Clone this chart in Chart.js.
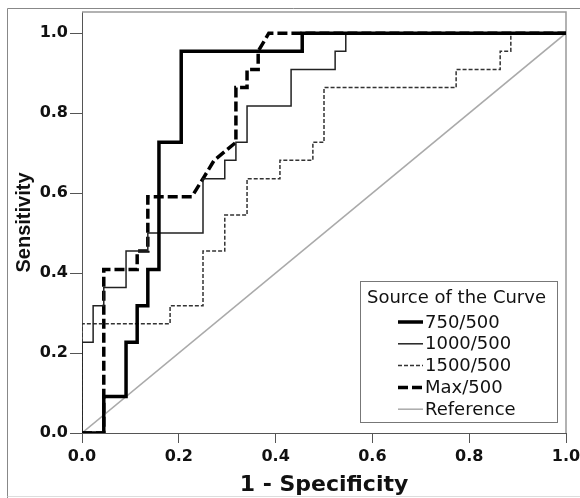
<!DOCTYPE html>
<html>
<head>
<meta charset="utf-8">
<script src="https://cdn.jsdelivr.net/npm/chart.js@4.4.0/dist/chart.umd.min.js"></script>
<style>
  html, body { margin: 0; padding: 0; background: #fff; }
  canvas { display: block; }
</style>
</head>
<body>
<canvas id="rocChart" width="580" height="498"></canvas>
<script>
// ROC curves (1 - specificity, sensitivity)
const seriesNames = ['750/500', '1000/500', '1500/500', 'Max/500', 'Reference'];

const fpr750 = [0, 0.045, 0.045, 0.091, 0.091, 0.114, 0.114, 0.136, 0.136, 0.159, 0.159, 0.205, 0.205, 0.455, 0.455, 1];
const tpr750 = [0, 0, 0.091, 0.091, 0.227, 0.227, 0.318, 0.318, 0.409, 0.409, 0.727, 0.727, 0.955, 0.955, 1, 1];

const fpr1000 = [0, 0, 0.023, 0.023, 0.045, 0.045, 0.091, 0.091, 0.136, 0.136, 0.25, 0.25, 0.295, 0.295, 0.318, 0.318, 0.341, 0.341, 0.432, 0.432, 0.523, 0.523, 0.545, 0.545, 1];
const tpr1000 = [0, 0.227, 0.227, 0.318, 0.318, 0.364, 0.364, 0.455, 0.455, 0.5, 0.5, 0.636, 0.636, 0.682, 0.682, 0.727, 0.727, 0.818, 0.818, 0.909, 0.909, 0.955, 0.955, 1, 1];

const fpr1500 = [0, 0, 0.182, 0.182, 0.25, 0.25, 0.295, 0.295, 0.341, 0.341, 0.409, 0.409, 0.477, 0.477, 0.5, 0.5, 0.773, 0.773, 0.864, 0.864, 0.886, 0.886, 1];
const tpr1500 = [0, 0.273, 0.273, 0.318, 0.318, 0.455, 0.455, 0.545, 0.545, 0.636, 0.636, 0.682, 0.682, 0.727, 0.727, 0.864, 0.864, 0.909, 0.909, 0.955, 0.955, 1, 1];

const fprMax = [0, 0.045, 0.045, 0.114, 0.114, 0.136, 0.136, 0.227, 0.25, 0.273, 0.318, 0.318, 0.341, 0.341, 0.364, 0.364, 0.386, 1];
const tprMax = [0, 0, 0.409, 0.409, 0.455, 0.455, 0.591, 0.591, 0.636, 0.682, 0.727, 0.864, 0.864, 0.909, 0.909, 0.955, 1, 1];

const fprRef = [0, 1];
const tprRef = [0, 1];

const xTicks = [0, 0.2, 0.4, 0.6, 0.8, 1.0];

function pts(xs, ys) {
  return xs.map((x, i) => ({ x: x, y: ys[i] }));
}

const tickFont = { family: '"DejaVu Sans", sans-serif', size: 16, weight: 'bold' };

// frame round the whole figure + top/right border of the plot
const framePlugin = {
  id: 'frame',
  beforeDraw(chart) {
    const ctx = chart.ctx;
    ctx.save();
    ctx.fillStyle = '#fff';
    ctx.fillRect(0, 0, chart.width, chart.height);
    ctx.strokeStyle = '#888';
    ctx.lineWidth = 1;
    ctx.beginPath();
    ctx.moveTo(7.5, chart.height);
    ctx.lineTo(7.5, 8.5);
    ctx.lineTo(chart.width, 8.5);
    ctx.stroke();
    ctx.strokeStyle = '#ddd';
    ctx.beginPath();
    ctx.moveTo(7.5, 496.5);
    ctx.lineTo(chart.width, 496.5);
    ctx.stroke();
    ctx.restore();
  },
  beforeDatasetsDraw(chart) {
    const a = chart.chartArea;
    const ctx = chart.ctx;
    ctx.save();
    ctx.strokeStyle = '#999';
    ctx.lineWidth = 1.5;
    ctx.beginPath();
    ctx.moveTo(a.left, a.top);
    ctx.lineTo(a.right, a.top);
    ctx.lineTo(a.right, a.bottom);
    ctx.stroke();
    ctx.restore();
  }
};

// legend box drawn inside the plot, like the SPSS one
const legendPlugin = {
  id: 'boxLegend',
  afterDatasetsDraw(chart) {
    const ctx = chart.ctx;
    ctx.save();
    ctx.fillStyle = '#fff';
    ctx.fillRect(360, 281, 197, 141);
    ctx.strokeStyle = '#777';
    ctx.lineWidth = 1;
    ctx.strokeRect(360.5, 281.5, 197, 141);

    ctx.fillStyle = '#111';
    ctx.textBaseline = 'middle';
    ctx.textAlign = 'left';
    ctx.font = '18px "DejaVu Sans", sans-serif';
    ctx.fillText('Source of the Curve', 367, 298);

    chart.data.datasets.forEach((ds, i) => {
      const y = 322 + i * 21.8;
      ctx.save();
      ctx.strokeStyle = ds.borderColor;
      ctx.lineWidth = ds.borderWidth;
      ctx.setLineDash(ds.borderDash || []);
      ctx.beginPath();
      ctx.moveTo(398, y);
      ctx.lineTo(423, y);
      ctx.stroke();
      ctx.restore();
      ctx.fillText(ds.label, 425, y + 1);
    });
    ctx.restore();
  }
};

new Chart(document.getElementById('rocChart'), {
  type: 'line',
  data: {
    datasets: [
      { label: seriesNames[0], data: pts(fpr750, tpr750), borderColor: '#000', borderWidth: 3.5 },
      { label: seriesNames[1], data: pts(fpr1000, tpr1000), borderColor: '#222', borderWidth: 1.5 },
      { label: seriesNames[2], data: pts(fpr1500, tpr1500), borderColor: '#333', borderWidth: 1.5, borderDash: [4, 2] },
      { label: seriesNames[3], data: pts(fprMax, tprMax), borderColor: '#000', borderWidth: 3.5, borderDash: [10, 4] },
      { label: seriesNames[4], data: pts(fprRef, tprRef), borderColor: '#aaa', borderWidth: 1.5 }
    ]
  },
  options: {
    responsive: false,
    animation: false,
    devicePixelRatio: 1,
    elements: { point: { radius: 0 }, line: { tension: 0, fill: false } },
    layout: { padding: { top: 12, right: 14, left: 0, bottom: 0 } },
    plugins: {
      legend: { display: false },
      tooltip: { enabled: false }
    },
    scales: {
      x: {
        type: 'linear',
        min: 0,
        max: 1,
        afterBuildTicks: (s) => { s.ticks = xTicks.map(v => ({ value: v })); },
        ticks: {
          font: tickFont,
          color: '#111',
          padding: 4,
          maxRotation: 0,
          callback: (v) => Number(v).toFixed(1)
        },
        grid: { drawOnChartArea: false, drawTicks: true, tickLength: 10, color: '#555' },
        border: { color: '#555', width: 1 },
        title: {
          display: true,
          text: '1 - Specificity',
          color: '#111',
          font: { family: '"DejaVu Sans", sans-serif', size: 22, weight: 'bold' },
          padding: { top: 0, bottom: 0 }
        },
        afterFit: (s) => { s.height = 65; s.paddingLeft = 0; s.paddingRight = 0; }
      },
      y: {
        type: 'linear',
        min: 0,
        max: 1.053,
        afterBuildTicks: (s) => { s.ticks = xTicks.map(v => ({ value: v })); },
        ticks: {
          font: tickFont,
          color: '#111',
          padding: 2,
          callback: (v) => Number(v).toFixed(1)
        },
        grid: { drawOnChartArea: false, drawTicks: true, tickLength: 12, color: '#555' },
        border: { color: '#555', width: 1 },
        title: {
          display: true,
          text: 'Sensitivity',
          color: '#111',
          font: { family: '"Liberation Sans", Arial, sans-serif', size: 20, weight: 'bold' },
          padding: { top: 12, bottom: 0 }
        },
        afterFit: (s) => { s.width = 82; s.paddingTop = 0; s.paddingBottom = 0; }
      }
    }
  },
  plugins: [framePlugin, legendPlugin]
});
</script>
</body>
</html>
